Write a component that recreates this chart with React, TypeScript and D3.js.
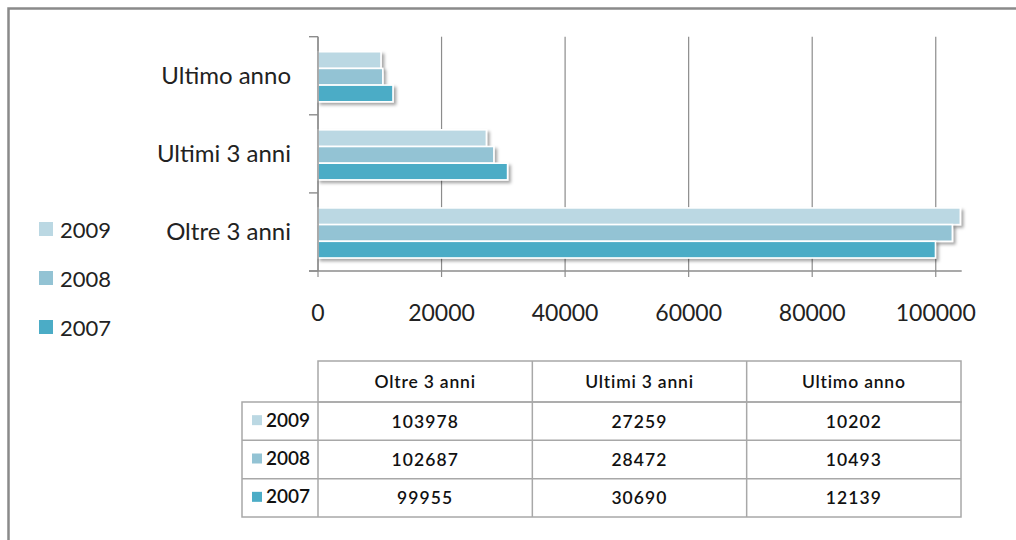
import React from "react";
import * as d3 from "d3";

const categories = ["Ultimo anno", "Ultimi 3 anni", "Oltre 3 anni"];
const tableCategories = ["Oltre 3 anni", "Ultimi 3 anni", "Ultimo anno"];
const seriesNames = ["2009", "2008", "2007"];
const values2009 = [103978, 27259, 10202]; // Oltre, Ultimi 3, Ultimo
const values2008 = [102687, 28472, 10493];
const values2007 = [99955, 30690, 12139];
const xTicks = [0, 20000, 40000, 60000, 80000, 100000];
const colors = ["#BBD8E3", "#93C3D4", "#4BACC6"];

const seriesValues: Record<string, number[]> = {
  "2009": values2009,
  "2008": values2008,
  "2007": values2007,
};

const FONT = "Lato, 'Open Sans', sans-serif";

export default function App() {
  const x = d3.scaleLinear().domain([0, 104200]).range([318, 961.7]);
  const y = d3.scaleBand<string>().domain(categories).range([36.7, 271]);
  const inner = d3
    .scaleBand<string>()
    .domain(seriesNames)
    .range([0, y.bandwidth()])
    .paddingInner(0)
    .paddingOuter(0.84);
  const color = d3.scaleOrdinal<string, string>().domain(seriesNames).range(colors);

  const valueOf = (s: string, cat: string) => seriesValues[s][tableCategories.indexOf(cat)];

  const plotTop = 36.7;
  const plotBottom = 271;
  const gridColor = "#8C8C8C";

  // table
  const colX = d3.scaleBand<string>().domain(tableCategories).range([318, 961]);
  const rowY = d3.scaleBand<string>().domain(seriesNames).range([402, 517]);
  const headTop = 361;
  const tableLeft = 242;
  const tableColor = "#A8A8A8";

  return (
    <svg
      width={1016}
      height={540}
      style={{ position: "absolute", left: 0, top: 0, background: "#fff" }}
      fontFamily={FONT}
    >
      <defs>
        <filter id="sh" x="-5%" y="-40%" width="115%" height="200%">
          <feDropShadow dx="2.5" dy="2.5" stdDeviation="1.6" floodColor="#000" floodOpacity="0.35" />
        </filter>
      </defs>
      {/* outer frame */}
      <path d="M8.5,1100 L8.5,8.5 L1100,8.5" fill="none" stroke="#8A8A8A" strokeWidth={2.5} />

      {/* gridlines */}
      {xTicks.map((t) => (
        <line key={"g" + t} x1={x(t)} x2={x(t)} y1={plotTop} y2={plotBottom + 6} stroke={gridColor} strokeWidth={1.2} />
      ))}

      {/* bars */}
      {categories.map((cat) =>
        seriesNames.map((s) => {
          const v = valueOf(s, cat);
          const y0 = (y(cat) as number) + (inner(s) as number) + 1;
          return (
            <rect
              key={cat + s}
              x={x(0)}
              y={y0}
              width={x(v) - x(0)}
              height={inner.bandwidth()}
              fill={color(s)}
              stroke="#fff"
              strokeWidth={1.6}
              filter="url(#sh)"
            />
          );
        })
      )}

      {/* axes */}
      <line x1={318} x2={318} y1={plotTop} y2={plotBottom} stroke={gridColor} strokeWidth={1.4} />
      {[...categories.map((c) => y(c) as number), plotBottom].map((yy, i) => (
        <line key={"yt" + i} x1={309} x2={318} y1={yy} y2={yy} stroke={gridColor} strokeWidth={1.4} />
      ))}
      <line x1={309} x2={961.7} y1={plotBottom} y2={plotBottom} stroke={gridColor} strokeWidth={1.4} />

      {/* category labels */}
      {categories.map((c) => (
        <text
          key={"cl" + c}
          x={291}
          y={(y(c) as number) + y.bandwidth() / 2 + 8.5}
          textAnchor="end"
          fontSize={24}
          fill="#222"
        >
          {c}
        </text>
      ))}

      {/* x tick labels */}
      {xTicks.map((t) => (
        <text key={"xl" + t} x={x(t)} y={321} textAnchor="middle" fontSize={23} fill="#222">
          {t}
        </text>
      ))}

      {/* legend */}
      {seriesNames.map((s, i) => (
        <g key={"lg" + s}>
          <rect x={39} y={222 + i * 49} width={14} height={14} fill={color(s)} />
          <text x={60} y={237.5 + i * 49} fontSize={22} fill="#222">
            {s}
          </text>
        </g>
      ))}

      {/* data table */}
      <g stroke={tableColor} strokeWidth={1.5} fill="none">
        <rect x={318} y={headTop} width={961 - 318} height={402 - headTop} />
        <rect x={tableLeft} y={402} width={961 - tableLeft} height={517 - 402} />
        {tableCategories.slice(1).map((c) => (
          <line key={"vc" + c} x1={colX(c)} x2={colX(c)} y1={headTop} y2={517} />
        ))}
        <line x1={318} x2={318} y1={402} y2={517} />
        {seriesNames.slice(1).map((s) => (
          <line key={"hr" + s} x1={tableLeft} x2={961} y1={rowY(s)} y2={rowY(s)} />
        ))}
      </g>
      {tableCategories.map((c) => (
        <text
          key={"th" + c}
          x={(colX(c) as number) + colX.bandwidth() / 2}
          y={headTop + (402 - headTop) / 2 + 6.5}
          textAnchor="middle"
          fontSize={17.5}
          fontWeight={600}
          letterSpacing={0.8}
          fill="#111"
        >
          {c}
        </text>
      ))}
      {seriesNames.map((s) => {
        const ry = (rowY(s) as number) + rowY.bandwidth() / 2;
        return (
          <g key={"row" + s}>
            <rect x={252} y={ry - 6} width={10} height={10} fill={color(s)} />
            <text x={266} y={ry + 5.5} fontSize={19} fontWeight={600} fill="#111">
              {s}
            </text>
            {tableCategories.map((c, ci) => (
              <text
                key={"td" + s + c}
                x={(colX(c) as number) + colX.bandwidth() / 2}
                y={ry + 6.5}
                textAnchor="middle"
                fontSize={17.5}
                fontWeight={600}
                letterSpacing={1.1}
                fill="#111"
              >
                {seriesValues[s][ci]}
              </text>
            ))}
          </g>
        );
      })}
    </svg>
  );
}
